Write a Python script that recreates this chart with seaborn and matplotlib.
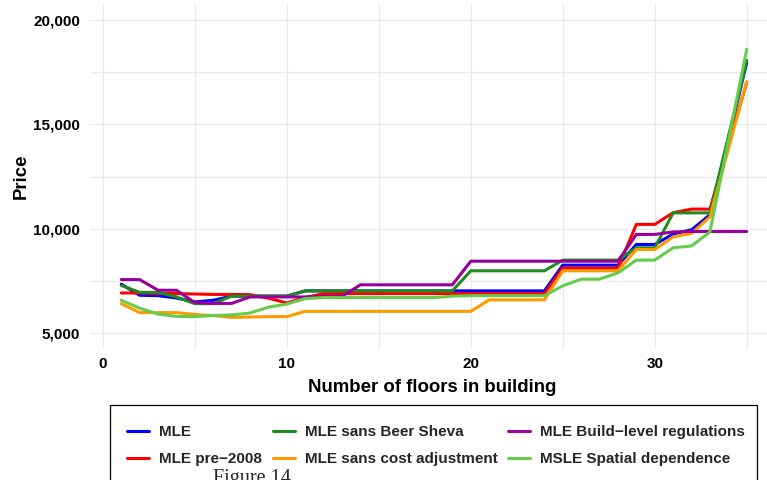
import matplotlib
matplotlib.use("Agg")
import matplotlib.pyplot as plt
from matplotlib.lines import Line2D
from matplotlib.patches import Rectangle
from matplotlib.ticker import FuncFormatter, MultipleLocator
import pandas as pd
import seaborn as sns

floors = list(range(1, 36))

mle = [7350, 6820, 6800, 6690, 6500, 6580, 6780, 6780, 6780, 6780,
       7030, 7030, 7030, 7030, 7030, 7030, 7030, 7030, 7030, 7030,
       7030, 7030, 7030, 7030, 8260, 8260, 8260, 8260, 9250, 9250,
       9750, 9950, 10670, 14300, 17950]
mle_pre2008 = [6930, 6930, 6910, 6900, 6880, 6860, 6860, 6850, 6680, 6450,
               6710, 6900, 6900, 6900, 6900, 6900, 6900, 6900, 6900, 6900,
               6900, 6900, 6900, 6900, 8120, 8120, 8120, 8120, 10210, 10210,
               10770, 10940, 10940, 14000, 17000]
mle_beer_sheva = [7290, 6960, 6960, 6740, 6420, 6420, 6780, 6780, 6780, 6780,
                  7030, 7030, 7030, 7030, 7030, 7030, 7030, 7030, 7030, 7990,
                  7990, 7990, 7990, 7990, 8500, 8500, 8500, 8500, 9090, 9090,
                  10760, 10760, 10760, 14400, 18050]
mle_cost = [6420, 5990, 5990, 5990, 5900, 5850, 5760, 5780, 5800, 5800,
            6050, 6050, 6050, 6050, 6050, 6050, 6050, 6050, 6050, 6050,
            6600, 6600, 6600, 6600, 7990, 7990, 7990, 7990, 9010, 9010,
            9610, 9780, 10570, 13800, 17040]
mle_build = [7570, 7570, 7060, 7060, 6470, 6430, 6430, 6740, 6740, 6740,
             6740, 6760, 6770, 7320, 7320, 7320, 7320, 7320, 7320, 8450,
             8450, 8450, 8450, 8450, 8450, 8450, 8450, 8450, 9730, 9730,
             9850, 9870, 9870, 9870, 9870]
msle_spatial = [6580, 6200, 5920, 5810, 5800, 5850, 5880, 5970, 6250, 6400,
                6660, 6710, 6710, 6710, 6710, 6710, 6710, 6710, 6780, 6800,
                6800, 6800, 6800, 6800, 7270, 7590, 7590, 7890, 8500, 8500,
                9090, 9180, 9850, 14200, 18580]

models = ["MLE", "MLE pre\u22122008", "MLE sans Beer Sheva",
          "MLE sans cost adjustment", "MLE Build\u2212level regulations",
          "MSLE Spatial dependence"]
colors = ["#0000ff", "#ff0000", "#1e8c1e", "#ff9900", "#990099", "#66cc4d"]

series = [mle, mle_pre2008, mle_beer_sheva, mle_cost, mle_build, msle_spatial]
df = pd.concat([pd.DataFrame({"floors": floors, "price": s, "model": m})
                for m, s in zip(models, series)])

sns.set_theme(style="white")
plt.rcParams["font.family"] = ["Liberation Sans", "DejaVu Sans"]
plt.rcParams["font.weight"] = "bold"

fig = plt.figure(figsize=(7.67, 4.8), dpi=100)
W, H = 767, 480
ax = fig.add_axes([90 / W, 1 - 349 / H, 688 / W, 345 / H])

sns.lineplot(data=df, x="floors", y="price", hue="model", hue_order=models,
             palette=dict(zip(models, colors)), linewidth=2.2, ax=ax,
             legend=False)

ax.set_xlim(-0.7, 36.7)
ax.set_ylim(4250, 20750)
ax.xaxis.set_major_locator(MultipleLocator(10))
ax.xaxis.set_minor_locator(MultipleLocator(5))
ax.yaxis.set_major_locator(MultipleLocator(5000))
ax.yaxis.set_minor_locator(MultipleLocator(2500))
ax.yaxis.set_major_formatter(FuncFormatter(lambda v, p: f"{v:,.0f}"))
ax.grid(which="both", color="#ebebeb", linewidth=1.0)
ax.set_axisbelow(True)
for sp in ax.spines.values():
    sp.set_visible(False)
ax.tick_params(which="both", length=0, labelsize=11, labelcolor="black")
ax.tick_params(axis="x", pad=6)
ax.tick_params(axis="y", pad=7)
for lab in ax.get_xticklabels() + ax.get_yticklabels():
    lab.set_fontweight("bold")

ax.set_xlabel("Number of floors in building", fontsize=13.4,
              fontweight="bold", color="black")
ax.set_ylabel("Price", fontsize=13.4, fontweight="bold", color="black")
ax.xaxis.set_label_coords(0.497, -0.087)
ax.yaxis.set_label_coords(-0.087, 0.5)

# legend box runs past the bottom edge, like the cropped original
fig.patches.append(Rectangle((110 / W, -0.1), 647 / W, 0.1 + (480 - 405) / H,
                             transform=fig.transFigure, fill=False,
                             edgecolor="black", linewidth=0.9))
handles = [Line2D([], [], color=c, linewidth=2.2) for c in colors]
fig.legend(handles, models, ncol=3, loc="upper left",
           bbox_to_anchor=(127 / W, 1 - 425 / H), frameon=False,
           borderaxespad=0, borderpad=0, handlelength=1.45,
           handletextpad=0.65, columnspacing=0.7, labelspacing=0.85,
           prop={"weight": "bold", "size": 11})

fig.text(213 / W, -3 / H, "Figure 14", fontsize=14.5, va="baseline",
         family=["Liberation Serif", "DejaVu Serif"], fontweight="normal")

fig.savefig("out.png", dpi=100)
